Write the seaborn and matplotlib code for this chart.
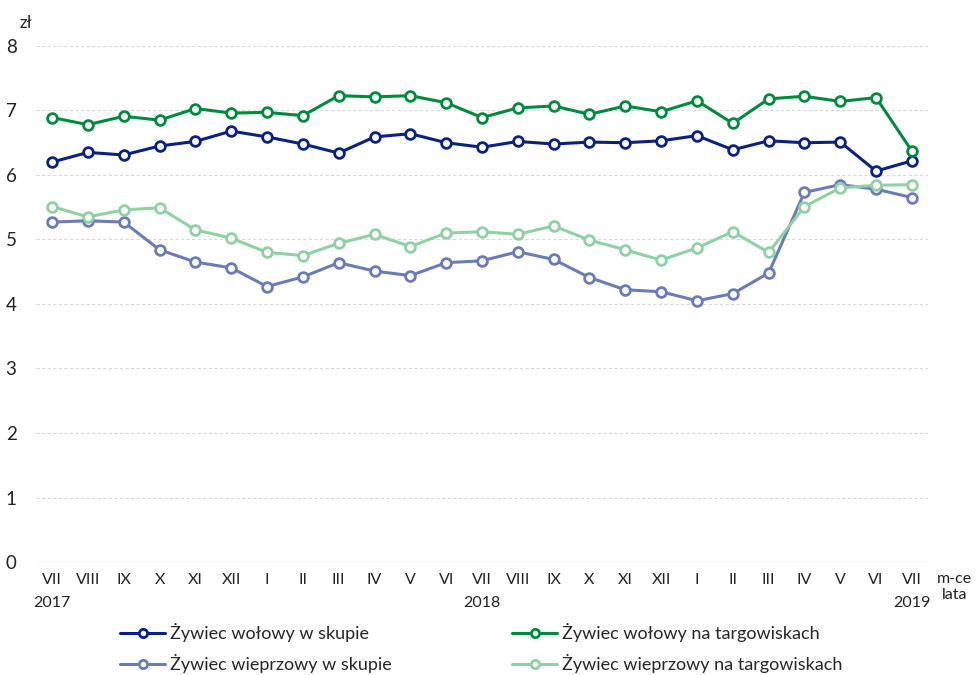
import matplotlib
matplotlib.use("Agg")
import matplotlib.pyplot as plt
import seaborn as sns
import pandas as pd
import numpy as np

months = ["VII", "VIII", "IX", "X", "XI", "XII", "I", "II", "III", "IV", "V", "VI",
          "VII", "VIII", "IX", "X", "XI", "XII", "I", "II", "III", "IV", "V", "VI", "VII"]
years = {0: "2017", 12: "2018", 24: "2019"}

wolowy_skup = [6.20, 6.35, 6.31, 6.45, 6.52, 6.68, 6.59, 6.48, 6.34, 6.59, 6.64, 6.50,
               6.43, 6.52, 6.48, 6.51, 6.50, 6.53, 6.61, 6.39, 6.53, 6.50, 6.51, 6.06, 6.22]
wolowy_targ = [6.89, 6.78, 6.91, 6.85, 7.03, 6.96, 6.97, 6.92, 7.23, 7.21, 7.23, 7.12,
               6.89, 7.04, 7.07, 6.94, 7.07, 6.98, 7.15, 6.80, 7.18, 7.22, 7.14, 7.20, 6.37]
wieprz_skup = [5.27, 5.29, 5.27, 4.84, 4.65, 4.56, 4.27, 4.42, 4.64, 4.51, 4.44, 4.64,
               4.67, 4.81, 4.69, 4.41, 4.22, 4.19, 4.05, 4.16, 4.48, 5.73, 5.85, 5.78, 5.65]
wieprz_targ = [5.51, 5.35, 5.46, 5.49, 5.15, 5.02, 4.80, 4.75, 4.94, 5.08, 4.89, 5.10,
               5.12, 5.08, 5.21, 4.99, 4.84, 4.68, 4.87, 5.12, 4.80, 5.51, 5.80, 5.84, 5.85]

series_names = ["Żywiec wołowy w skupie", "Żywiec wieprzowy w skupie",
                "Żywiec wołowy na targowiskach", "Żywiec wieprzowy na targowiskach"]
series_vals = [wolowy_skup, wieprz_skup, wolowy_targ, wieprz_targ]
colors = ["#0b2180", "#6a7bb6", "#008a3e", "#8fd1a5"]

rows = []
for name, vals in zip(series_names, series_vals):
    for i, v in enumerate(vals):
        rows.append({"idx": i, "value": v, "series": name})
df = pd.DataFrame(rows)

sns.set_theme(style="white")
plt.rcParams['font.family'] = ['Lato', 'DejaVu Sans']

fig = plt.figure(figsize=(9.78, 6.75), dpi=100)
ax = fig.add_axes([0.0368, 0.1674, 0.9121, 0.7645])

draw_order = [1, 3, 0, 2]
handles = {}
for k in draw_order:
    name = series_names[k]
    sub = df[df["series"] == name]
    sns.lineplot(data=sub, x="idx", y="value", ax=ax, color=colors[k], lw=2.2,
                 marker="o", markersize=7, markerfacecolor="white",
                 markeredgecolor=colors[k], markeredgewidth=2.0, label=name, legend=False)
    handles[name] = ax.lines[-1]

ax.set_ylim(0, 8)
ax.set_xlim(-0.45, 24.45)
ax.set_yticks(range(0, 9))
ax.set_yticklabels([str(v) for v in range(0, 9)], fontsize=13.5, color="#222222")
ax.set_xticks(range(25))
ax.set_xticklabels(months, fontsize=11.5, color="#222222")
ax.tick_params(axis="both", length=0, pad=8)
ax.tick_params(axis="y", pad=14)
ax.set_xlabel("")
ax.set_ylabel("")
for s in ax.spines.values():
    s.set_visible(False)
for y in range(1, 9):
    ax.axhline(y, color="#d9d9d9", lw=0.8, ls=(0, (3, 2)), zorder=0)
ax.axhline(0, color="#d9d9d9", lw=1.0, zorder=0)

for i, yr in years.items():
    ax.text(i, -0.52, yr, ha="center", va="top", fontsize=11.5, color="#222222")

fig.text(0.0195, 0.966, "zł", fontsize=12, color="#222222", ha="left", va="center")
fig.text(0.976, 0.130, "m-ce\nlata", fontsize=11.5, color="#222222", ha="center", va="center",
         linespacing=1.15)

leg_handles = [handles[n] for n in series_names]
fig.legend(leg_handles, series_names, loc="center", bbox_to_anchor=(0.492, 0.040), ncol=2,
           frameon=False, fontsize=13, handlelength=2.5, columnspacing=6.7, labelspacing=0.65,
           handletextpad=0.25, markerscale=0.85)

fig.savefig("out.png", dpi=100)
